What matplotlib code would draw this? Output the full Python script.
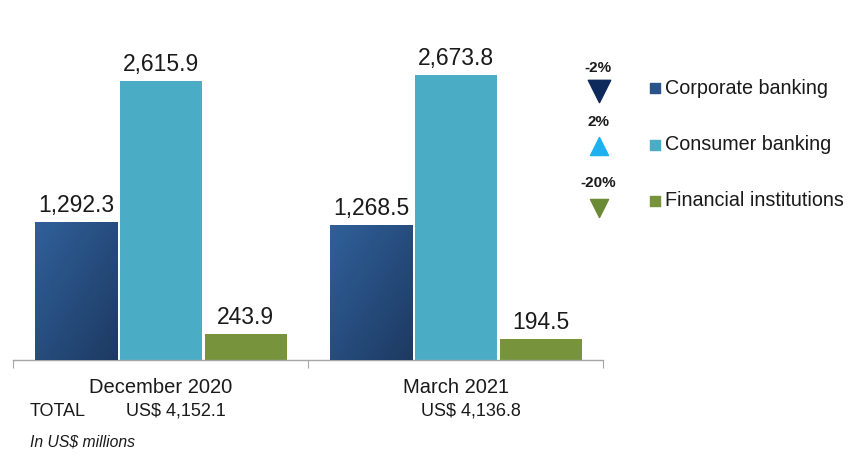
import numpy as np
import matplotlib.pyplot as plt
from matplotlib.colors import LinearSegmentedColormap

plt.rcParams['font.family'] = ['Liberation Sans', 'DejaVu Sans']

# Loan portfolio by segment, in US$ millions
periods = ['December 2020', 'March 2021']
segments = ['Corporate banking', 'Consumer banking', 'Financial institutions']
corporate = [1292.3, 1268.5]
consumer = [2615.9, 2673.8]
financial = [243.9, 194.5]
totals = ['US$ 4,152.1', 'US$ 4,136.8']
changes = ['-2%', '2%', '-20%']

colors = ['#2A5389', '#4BACC6', '#77933C']
arrow_colors = ['#0E2A5C', '#1DB1F0', '#6A8A35']
arrow_markers = ['v', '^', 'v']

fig = plt.figure(figsize=(8.68, 4.53), dpi=100)
ax = fig.add_axes([0.015, 0.2053, 0.680, 0.7537])

x = np.arange(len(periods))
offsets = [-0.286, 0.0, 0.288]
width = 0.278
series = [corporate, consumer, financial]

grad_cmap = LinearSegmentedColormap.from_list('corp', ['#30609A', '#1D3A62'])
for vals, off, col in zip(series, offsets, colors):
    bars = ax.bar(x + off, vals, width, color=col, edgecolor='none', zorder=2)
    for b, v in zip(bars, vals):
        ax.text(b.get_x() + b.get_width() / 2, v + 45, f'{v:,.1f}',
                ha='center', va='bottom', fontsize=16.5, color='#1a1a1a')
    if col == colors[0]:
        # diagonal shading on the corporate bars
        for b in bars:
            x0, x1 = b.get_x(), b.get_x() + b.get_width()
            gx, gy = np.meshgrid(np.linspace(0, 1, 50), np.linspace(0, 1, 50))
            g = (gx + gy) / 2
            im = ax.imshow(g, cmap=grad_cmap, extent=[x0, x1, 0, b.get_height()],
                           origin='upper', aspect='auto', zorder=3)
            im.set_clip_path(b)

ax.set_xlim(-0.5, 1.5)
ax.set_ylim(0, 3200)
ax.set_yticks([])
for s in ['left', 'right', 'top']:
    ax.spines[s].set_visible(False)
ax.spines['bottom'].set_color('#A6A6A6')
ax.spines['bottom'].set_linewidth(1.0)
ax.set_xticks([-0.5, 0.5, 1.5])
ax.set_xticklabels([])
ax.tick_params(axis='x', which='major', length=6, color='#A6A6A6', direction='out')
ax.set_xticks(x, minor=True)
ax.set_xticklabels(periods, minor=True, fontsize=14.5, color='#1a1a1a')
ax.tick_params(axis='x', which='minor', length=0, pad=13)

# totals row and unit note
fig.text(30 / 868, 1 - 411 / 453, 'TOTAL', fontsize=13, va='center', color='#1a1a1a')
fig.text(126 / 868, 1 - 411 / 453, totals[0], fontsize=13, va='center', color='#1a1a1a')
fig.text(421 / 868, 1 - 411 / 453, totals[1], fontsize=13, va='center', color='#1a1a1a')
fig.text(30 / 868, 1 - 442 / 453, 'In US$ millions', fontsize=11.3, style='italic',
         va='center', color='#1a1a1a')

# legend with change indicators
ov = fig.add_axes([0, 0, 1, 1], facecolor='none')
ov.set_xlim(0, 868)
ov.set_ylim(453, 0)
ov.axis('off')
legend_y = [88, 145, 201]
change_y = [68, 122, 183]
arrow_y = [91, 146, 208]
for i, seg in enumerate(segments):
    ov.scatter([655], [legend_y[i]], marker='s', s=50, color=colors[i])
    ov.text(665, legend_y[i], seg, fontsize=14.2, va='center', color='#1a1a1a')
    ov.text(598, change_y[i], changes[i], fontsize=11, fontweight='bold',
            ha='center', va='center', color='#1a1a1a')
    ov.scatter([599], [arrow_y[i]], marker=arrow_markers[i],
               s=260 if i == 0 else 170, color=arrow_colors[i])

fig.savefig('out.png', dpi=100)
